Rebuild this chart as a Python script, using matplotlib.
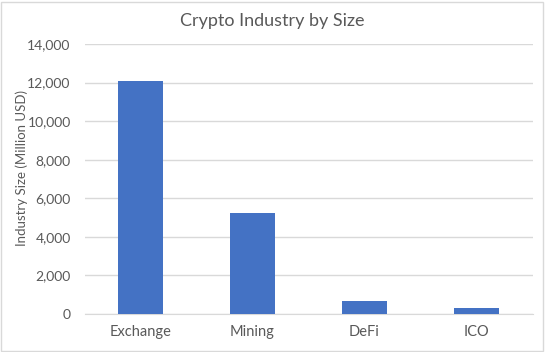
import matplotlib
matplotlib.use("Agg")
import matplotlib.pyplot as plt
from matplotlib.patches import Rectangle
from matplotlib.ticker import FuncFormatter

categories = ["Exchange", "Mining", "DeFi", "ICO"]
values = [12100, 5240, 680, 320]
yticks = [0, 2000, 4000, 6000, 8000, 10000, 12000, 14000]

plt.rcParams['font.family'] = ['Lato', 'DejaVu Sans']
text_color = "#595959"

fig = plt.figure(figsize=(5.45, 3.52), dpi=100)
ax = fig.add_axes([84.5/545, (352-314)/352, (532.5-84.5)/545, (314-44)/352])

x = list(range(len(categories)))
ax.bar(x, values, width=0.4, color="#4472C4", zorder=3)
ax.set_xlim(-0.5, len(categories) - 0.5)
ax.set_ylim(0, 14000)
ax.set_yticks(yticks)
ax.yaxis.set_major_formatter(FuncFormatter(lambda v, p: f"{int(v):,}"))
ax.set_xticks(x)
ax.set_xticklabels(categories)
ax.grid(axis="y", color="#d9d9d9", linewidth=1, zorder=0)
for s in ["top", "right", "left"]:
    ax.spines[s].set_visible(False)
ax.spines["bottom"].set_color("#d9d9d9")
ax.tick_params(axis="both", length=0, labelsize=10, colors=text_color)
ax.tick_params(axis="x", labelsize=10.5, pad=8)
ax.tick_params(axis="y", pad=10)
fig.text(22/545, 1 - 168/352, "Industry Size (Million USD)", rotation=90,
         ha="center", va="center", fontsize=9.5, color=text_color)
fig.text(0.5, 0.94, "Crypto Industry by Size", ha="center", va="center",
         fontsize=13, color=text_color)

fig.patches.append(Rectangle((1/545, 1/352), 542/545, 349/352, transform=fig.transFigure,
                             fill=False, edgecolor="#d9d9d9", linewidth=1))

fig.savefig("out.png", dpi=100)
